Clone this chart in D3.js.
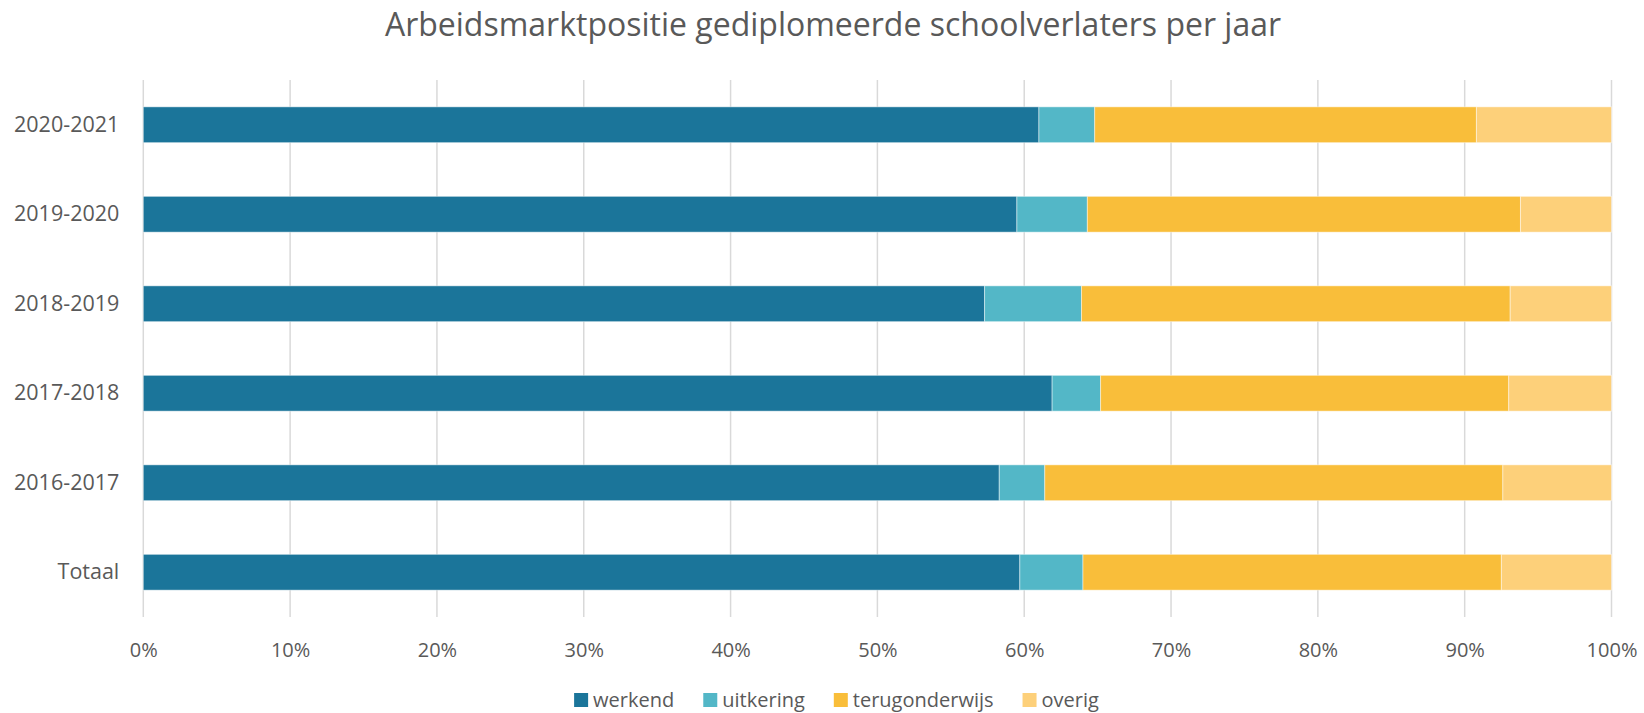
<!DOCTYPE html>
<html lang="nl">
<head>
<meta charset="UTF-8">
<title>Arbeidsmarktpositie gediplomeerde schoolverlaters per jaar</title>
<script src="https://d3js.org/d3.v7.min.js"></script>
<style>
  body { margin: 0; background: #fff; overflow: hidden; }
  svg { display: block; font-family: 'Open Sans', sans-serif; }
  .grid line { stroke: #d9d9d9; stroke-width: 1.5; }
  .lbl { fill: #595959; }
</style>
</head>
<body>
<svg id="chart" width="1644" height="713"></svg>
<script>
// categorieën (van boven naar beneden)
const categories = ["2020-2021", "2019-2020", "2018-2019", "2017-2018", "2016-2017", "Totaal"];
const seriesNames = ["werkend", "uitkering", "terugonderwijs", "overig"];
// aandelen in procenten
const werkend        = [61.0, 59.5, 57.3, 61.9, 58.3, 59.7];
const uitkering      = [3.8, 4.8, 6.6, 3.3, 3.1, 4.3];
const terugonderwijs = [26.0, 29.5, 29.2, 27.8, 31.2, 28.5];
const overig         = [9.2, 6.2, 6.9, 7.0, 7.4, 7.5];
const tickValues = [0, 0.1, 0.2, 0.3, 0.4, 0.5, 0.6, 0.7, 0.8, 0.9, 1.0];

const colors = ["#1b759a", "#53b7c7", "#f9be3a", "#fdd07a"];

const svg = d3.select("#chart");
const W = 1644, H = 713;
const margin = { left: 143.3, right: W - 1611.5, top: 80, bottom: H - 617 };

// tabel voor d3.stack
const table = categories.map((c, i) => ({
  cat: c,
  werkend: werkend[i], uitkering: uitkering[i],
  terugonderwijs: terugonderwijs[i], overig: overig[i]
}));
const stacked = d3.stack().keys(seriesNames).offset(d3.stackOffsetExpand)(table);

const x = d3.scaleLinear().domain([0, 1]).range([margin.left, W - margin.right]);
const y = d3.scaleBand().domain(categories)
  .range([margin.top, H - margin.bottom])
  .paddingInner(0.6).paddingOuter(0.3);

// titel
svg.append("text")
  .attr("class", "lbl")
  .attr("x", 833).attr("y", 36)
  .attr("text-anchor", "middle")
  .attr("font-size", 32)
  .text("Arbeidsmarktpositie gediplomeerde schoolverlaters per jaar");

// rasterlijnen
svg.append("g").attr("class", "grid")
  .selectAll("line").data(tickValues).join("line")
  .attr("x1", d => x(d)).attr("x2", d => x(d))
  .attr("y1", margin.top).attr("y2", H - margin.bottom);

// balken
svg.append("g").selectAll("g").data(stacked).join("g")
  .attr("fill", (d, i) => colors[i])
  .selectAll("rect").data(d => d).join("rect")
  .attr("x", d => x(d[0]))
  .attr("width", d => x(d[1]) - x(d[0]))
  .attr("y", d => y(d.data.cat))
  .attr("height", y.bandwidth())
  .attr("stroke", "rgba(255,255,255,0.45)")
  .attr("stroke-width", 1);

// x-as
const xAxis = svg.append("g")
  .attr("transform", `translate(0,${H - margin.bottom})`)
  .call(d3.axisBottom(x).tickValues(tickValues).tickFormat(d3.format(".0%")).tickSize(0).tickPadding(0));
xAxis.select(".domain").remove();
xAxis.selectAll("text")
  .attr("class", "lbl").attr("fill", null)
  .attr("font-family", "'Open Sans', sans-serif")
  .attr("font-size", 20)
  .attr("dy", null)
  .attr("y", 40);

// y-as
const yAxis = svg.append("g")
  .attr("transform", `translate(${margin.left},0)`)
  .call(d3.axisLeft(y).tickSize(0).tickPadding(24));
yAxis.select(".domain").remove();
yAxis.selectAll("text")
  .attr("class", "lbl").attr("fill", null)
  .attr("font-family", "'Open Sans', sans-serif")
  .attr("font-size", 21.5);

// legenda
const legend = svg.append("g").attr("transform", "translate(0,707)");
const items = legend.selectAll("g").data(seriesNames).join("g");
items.append("rect")
  .attr("width", 14).attr("height", 14).attr("y", -14)
  .attr("fill", (d, i) => colors[i]);
items.append("text")
  .attr("class", "lbl")
  .attr("x", 19)
  .attr("font-size", 20)
  .text(d => d);
const widths = [];
items.each(function () {
  widths.push(19 + this.querySelector("text").getComputedTextLength());
});
const gap = 29;
const total = d3.sum(widths) + gap * (widths.length - 1);
let pos = 836.5 - total / 2;
items.attr("transform", (d, i) => {
  const t = `translate(${pos},0)`;
  pos += widths[i] + gap;
  return t;
});
</script>
</body>
</html>
